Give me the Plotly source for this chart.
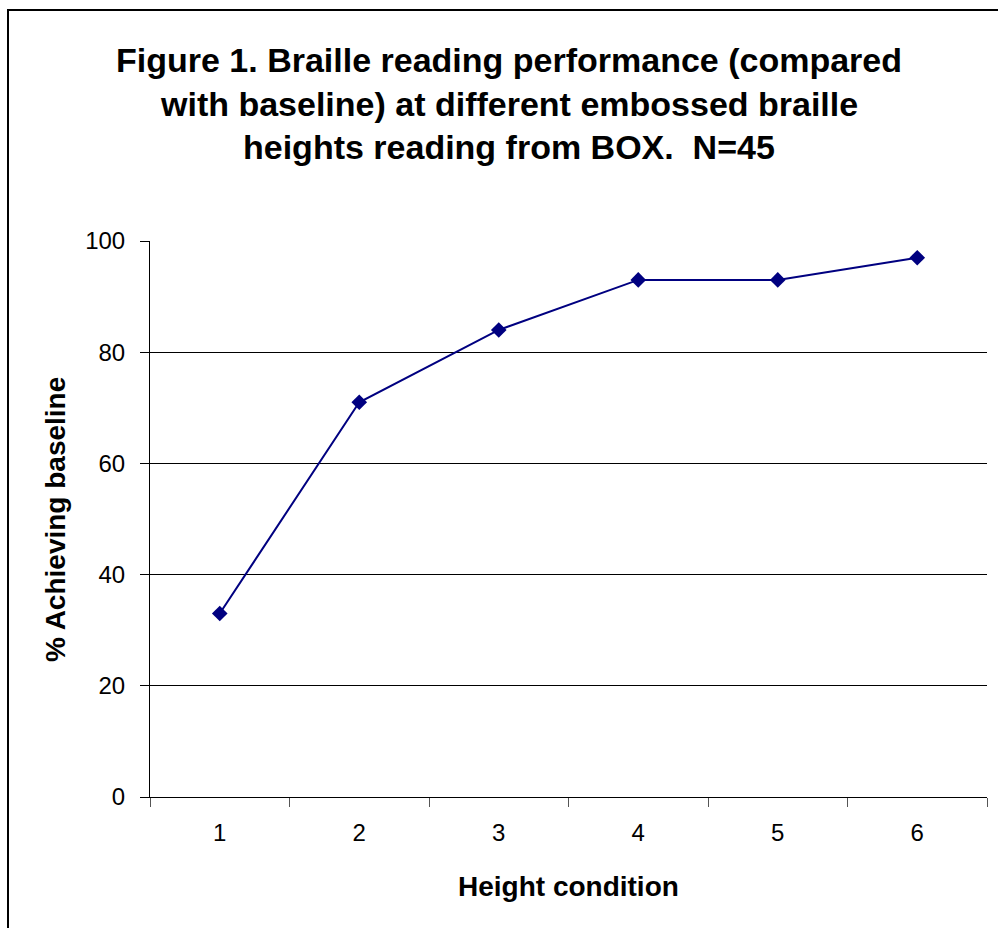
import plotly.graph_objects as go

categories = ["1", "2", "3", "4", "5", "6"]
values = [33, 71, 84, 93, 93, 97]
y_ticks = [0, 20, 40, 60, 80, 100]
title_lines = [
    "Figure 1. Braille reading performance (compared",
    "with baseline) at different embossed braille",
    "heights reading from BOX.  N=45",
]
x_title = "Height condition"
y_title = "% Achieving baseline"

W, H = 998, 928
L, R, T, B = 150, 11, 241, 131
pw, ph = W - L - R, H - T - B

def px_x(x):
    return (x - L) / pw

def px_y(y):
    return (H - B - y) / ph

fig = go.Figure()
fig.add_trace(go.Scatter(
    x=list(range(len(categories))), y=values, mode="lines+markers",
    line=dict(color="#000080", width=2),
    marker=dict(symbol="diamond", size=12, color="#000080"),
    showlegend=False, hoverinfo="skip",
))

font = "Liberation Sans, Arial, sans-serif"
fig.update_layout(
    width=W, height=H,
    margin=dict(l=L, r=R, t=T, b=B, pad=0),
    paper_bgcolor="white", plot_bgcolor="white",
    font=dict(family=font, color="black"),
    xaxis=dict(
        range=[-0.5, len(categories) - 0.5],
        tickmode="array",
        tickvals=list(range(len(categories))),
        ticktext=categories,
        showgrid=False, zeroline=False,
        showline=True, linecolor="black", linewidth=1,
        ticks="", tickfont=dict(size=24, color="black"),
        ticklabelstandoff=14,
        minor=dict(tickmode="array",
                   tickvals=[i - 0.5 for i in range(len(categories) + 1)],
                   ticks="outside", ticklen=9, tickcolor="#555", tickwidth=1),
        fixedrange=True,
    ),
    yaxis=dict(
        range=[0, 100],
        tickmode="array", tickvals=y_ticks,
        showgrid=True, gridcolor="black", gridwidth=1,
        zeroline=False,
        showline=True, linecolor="black", linewidth=1,
        ticks="outside", ticklen=9, tickcolor="black",
        tickfont=dict(size=24, color="black"),
        ticklabelstandoff=10,
        fixedrange=True,
    ),
)

# title lines
title_y = [60, 104, 147]
for line, yy in zip(title_lines, title_y):
    fig.add_annotation(
        text="<b>%s</b>" % line, xref="paper", yref="paper",
        x=px_x(509), y=px_y(yy), showarrow=False,
        xanchor="center", yanchor="middle",
        font=dict(size=34, family=font, color="black"),
    )

fig.add_annotation(
    text="<b>%s</b>" % x_title, xref="paper", yref="paper",
    x=px_x(568), y=px_y(886), showarrow=False,
    xanchor="center", yanchor="middle",
    font=dict(size=28, family=font, color="black"),
)
fig.add_annotation(
    text="<b>%s</b>" % y_title, xref="paper", yref="paper",
    x=px_x(55), y=px_y(520), showarrow=False, textangle=-90,
    xanchor="center", yanchor="middle",
    font=dict(size=28, family=font, color="black"),
)

# outer chart border
fig.add_shape(type="rect", xref="paper", yref="paper",
              x0=px_x(8), x1=px_x(1010), y0=px_y(940), y1=px_y(10),
              line=dict(color="black", width=2), fillcolor="rgba(0,0,0,0)",
              layer="below")

fig.write_html("out.html", config={"displayModeBar": False, "staticPlot": True},
               post_script="document.body.style.margin='0';")
